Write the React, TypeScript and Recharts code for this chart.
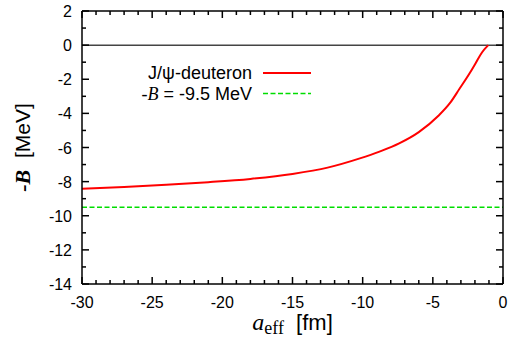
import { Legend, Line, LineChart, ReferenceLine, XAxis, YAxis, Label } from "recharts";

// J/psi-deuteron binding energy vs effective scattering length
const aEff = [-30, -27, -24, -21, -18, -15, -12.5, -10.2, -8.8, -7.4, -6, -4.6, -3.8, -3.1, -2.4, -1.95, -1.5, -1.05];
const minusB = [-8.42, -8.31, -8.18, -8.03, -7.84, -7.55, -7.18, -6.64, -6.24, -5.76, -5.1, -4.14, -3.42, -2.56, -1.68, -1.06, -0.43, 0];

const refA = [-30, 0];
const refB = [-9.5, -9.5];

const seriesNames = ["J/ψ-deuteron", "-B = -9.5 MeV"];

const xTicks = [-30, -29, -28, -27, -26, -25, -24, -23, -22, -21, -20, -19, -18, -17, -16, -15, -14, -13, -12, -11, -10, -9, -8, -7, -6, -5, -4, -3, -2, -1, 0];
const yTicks = [-14, -13, -12, -11, -10, -9, -8, -7, -6, -5, -4, -3, -2, -1, 0, 1, 2];

const curveData = aEff.map((a, i) => ({ a, v: minusB[i] }));
const refData = refA.map((a, i) => ({ a, v: refB[i] }));

const SANS = "'Liberation Sans', Arial, Helvetica, sans-serif";
const SERIF = "'Liberation Serif', 'Times New Roman', serif";

const isMajorX = (v: number) => v % 5 === 0;
const isMajorY = (v: number) => v % 2 === 0;

// each tick draws its own inward mark (and a label on the bottom/left axes)
const BottomTick = (props: any) => {
  const { x, y, payload } = props;
  const major = isMajorX(payload.value);
  return (
    <g>
      <line x1={x} x2={x} y1={y} y2={y - (major ? 7 : 4)} stroke="#000" strokeWidth={1.5} />
      {major && (
        <text x={x} y={y + 24} textAnchor="middle" fontSize={16} fontFamily={SANS} fill="#000">
          {payload.value}
        </text>
      )}
    </g>
  );
};

const TopTick = (props: any) => {
  const { x, y, payload } = props;
  const major = isMajorX(payload.value);
  return (
    <g>
      <line x1={x} x2={x} y1={y} y2={y + (major ? 7 : 4)} stroke="#000" strokeWidth={1.5} />
    </g>
  );
};

const LeftTick = (props: any) => {
  const { x, y, payload } = props;
  const major = isMajorY(payload.value);
  return (
    <g>
      <line x1={x} x2={x + (major ? 7 : 4)} y1={y} y2={y} stroke="#000" strokeWidth={1.5} />
      {major && (
        <text x={x - 10} y={y + 6} textAnchor="end" fontSize={16} fontFamily={SANS} fill="#000">
          {payload.value}
        </text>
      )}
    </g>
  );
};

const RightTick = (props: any) => {
  const { x, y, payload } = props;
  const major = isMajorY(payload.value);
  return (
    <g>
      <line x1={x} x2={x - (major ? 7 : 4)} y1={y} y2={y} stroke="#000" strokeWidth={1.5} />
    </g>
  );
};

const XTitle = (props: any) => {
  const { viewBox } = props;
  const cx = viewBox.x + viewBox.width / 2;
  return (
    <text x={cx} y={viewBox.y + 46} textAnchor="middle" fill="#000" style={{ whiteSpace: "pre" }}>
      <tspan fontFamily={SERIF} fontStyle="italic" fontSize={24}>a</tspan>
      <tspan fontFamily={SERIF} fontSize={18} dy={4}>eff</tspan>
      <tspan fontFamily={SANS} fontSize={22} dy={-4}>{"  [fm]"}</tspan>
    </text>
  );
};

const YTitle = (props: any) => {
  const { viewBox } = props;
  const cy = viewBox.y + viewBox.height / 2;
  const cx = 30;
  return (
    <text x={cx} y={cy} transform={`rotate(-90 ${cx} ${cy})`} textAnchor="middle" fill="#000" style={{ whiteSpace: "pre" }}>
      <tspan fontFamily={SERIF} fontStyle="italic" fontWeight="bold" fontSize={22}>-B</tspan>
      <tspan fontFamily={SANS} fontSize={21}>{"  [MeV]"}</tspan>
    </text>
  );
};

const legendLabel = (name: string) => {
  if (name.startsWith("-B")) {
    return (
      <>
        <tspan fontFamily={SERIF} fontStyle="italic">-B</tspan>
        <tspan>{name.slice(2)}</tspan>
      </>
    );
  }
  return name;
};

const renderLegend = (props: any) => {
  const entries = [...(props.payload ?? [])].sort(
    (p: any, q: any) => seriesNames.indexOf(p.value) - seriesNames.indexOf(q.value)
  );
  return (
    <svg width={330} height={110} style={{ display: "block" }}>
      {entries.map((entry: any, i: number) => {
        const cy = 73 + i * 20.5;
        return (
          <g key={entry.value}>
            <text x={252} y={cy + 6} textAnchor="end" fontSize={18} fontFamily={SANS} fill="#000" style={{ whiteSpace: "pre" }}>
              {legendLabel(entry.value)}
            </text>
            <line
              x1={263}
              x2={311}
              y1={cy}
              y2={cy}
              stroke={entry.color}
              strokeWidth={entry.payload?.strokeWidth ?? 1.5}
              strokeDasharray={entry.payload?.strokeDasharray}
            />
          </g>
        );
      })}
    </svg>
  );
};

const frame = { stroke: "#000", strokeWidth: 1.5 };

export default function App() {
  return (
    <div style={{ position: "absolute", left: 0, top: 0 }}>
      <LineChart width={512} height={345} margin={{ top: 10, right: 8, left: 22, bottom: 11 }}>
        <XAxis
          xAxisId="b"
          dataKey="a"
          type="number"
          domain={[-30, 0]}
          ticks={xTicks}
          interval={0}
          tickSize={0}
          tickMargin={0}
          tickLine={false}
          tick={BottomTick}
          height={50}
          axisLine={frame}
        >
          <Label content={XTitle} />
        </XAxis>
        <XAxis
          xAxisId="t"
          orientation="top"
          dataKey="a"
          type="number"
          domain={[-30, 0]}
          ticks={xTicks}
          interval={0}
          tickSize={0}
          tickMargin={0}
          tickLine={false}
          tick={TopTick}
          height={1}
          axisLine={frame}
        />
        <YAxis
          yAxisId="l"
          type="number"
          domain={[-14, 2]}
          ticks={yTicks}
          interval={0}
          tickSize={0}
          tickMargin={0}
          tickLine={false}
          tick={LeftTick}
          width={60}
          axisLine={frame}
        >
          <Label content={YTitle} />
        </YAxis>
        <YAxis
          yAxisId="r"
          orientation="right"
          type="number"
          domain={[-14, 2]}
          ticks={yTicks}
          interval={0}
          tickSize={0}
          tickMargin={0}
          tickLine={false}
          tick={RightTick}
          width={1}
          axisLine={frame}
        />
        <ReferenceLine xAxisId="b" yAxisId="l" y={0} stroke="#444" strokeWidth={1.5} />
        <Line
          xAxisId="b"
          yAxisId="l"
          data={curveData}
          dataKey="v"
          name={seriesNames[0]}
          type="monotone"
          stroke="#ff0000"
          strokeWidth={2}
          dot={false}
          isAnimationActive={false}
        />
        <Line
          xAxisId="t"
          yAxisId="r"
          data={refData}
          dataKey="v"
          name={seriesNames[1]}
          type="linear"
          stroke="#00dd00"
          strokeWidth={1.6}
          strokeDasharray="5 2.5"
          dot={false}
          isAnimationActive={false}
        />
        <Legend
          content={renderLegend}
          layout="vertical"
          align="center"
          verticalAlign="middle"
          wrapperStyle={{ position: "absolute", left: 0, top: 0, width: 330, height: 110 }}
        />
      </LineChart>
    </div>
  );
}
